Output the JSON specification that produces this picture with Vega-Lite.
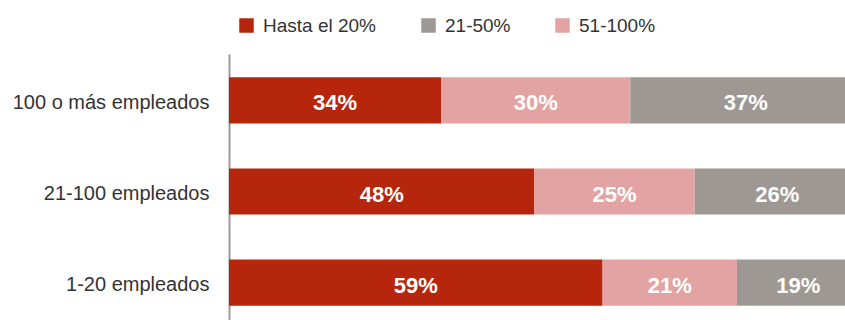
{
  "$schema": "https://vega.github.io/schema/vega-lite/v6.json",
  "width": 616,
  "height": 275,
  "autosize": {"type": "none"},
  "padding": {"left": 229, "top": 54, "right": 0, "bottom": 0},
  "background": "white",
  "config": {"view": {"stroke": null}},
  "data": {
    "values": [
      {"grupo": "100 o más empleados", "rango": "Hasta el 20%", "orden": 1, "valor": 0.336},
      {"grupo": "100 o más empleados", "rango": "51-100%", "orden": 2, "valor": 0.300},
      {"grupo": "100 o más empleados", "rango": "21-50%", "orden": 3, "valor": 0.366},
      {"grupo": "21-100 empleados", "rango": "Hasta el 20%", "orden": 1, "valor": 0.484},
      {"grupo": "21-100 empleados", "rango": "51-100%", "orden": 2, "valor": 0.254},
      {"grupo": "21-100 empleados", "rango": "21-50%", "orden": 3, "valor": 0.262},
      {"grupo": "1-20 empleados", "rango": "Hasta el 20%", "orden": 1, "valor": 0.592},
      {"grupo": "1-20 empleados", "rango": "51-100%", "orden": 2, "valor": 0.213},
      {"grupo": "1-20 empleados", "rango": "21-50%", "orden": 3, "valor": 0.194}
    ]
  },
  "encoding": {
    "y": {
      "field": "grupo",
      "type": "nominal",
      "sort": ["100 o más empleados", "21-100 empleados", "1-20 empleados"],
      "scale": {"paddingInner": 0.4945, "paddingOuter": 0.256},
      "axis": {
        "title": null,
        "ticks": false,
        "domainColor": "#9a9a9a",
        "domainWidth": 2,
        "labelFont": "Liberation Sans",
        "labelFontSize": 20,
        "labelColor": "#333333",
        "labelPadding": 20,
        "labelOffset": 2.5,
        "labelLimit": 300
      }
    },
    "x": {
      "field": "valor",
      "type": "quantitative",
      "stack": "zero",
      "scale": {"domain": [0, 0.9762], "nice": false, "zero": true},
      "axis": null
    },
    "order": {"field": "orden", "type": "quantitative"}
  },
  "layer": [
    {
      "mark": {"type": "bar", "clip": true},
      "encoding": {
        "color": {
          "field": "rango",
          "type": "nominal",
          "scale": {
            "domain": ["Hasta el 20%", "21-50%", "51-100%"],
            "range": ["#B5260C", "#9E9894", "#E3A3A3"]
          },
          "legend": {
            "title": null,
            "orient": "none",
            "direction": "horizontal",
            "columns": 3,
            "legendX": 8,
            "legendY": -38,
            "symbolType": "square",
            "symbolSize": 210,
            "symbolStrokeWidth": 0,
            "symbolOpacity": 1,
            "labelFont": "Liberation Sans",
            "labelFontSize": 19,
            "labelColor": "#333333",
            "labelOffset": 7,
            "columnPadding": 42,
            "gridAlign": "none",
            "labelLimit": 300
          }
        }
      }
    },
    {
      "mark": {
        "type": "text",
        "font": "Liberation Sans",
        "fontSize": 22,
        "fontWeight": "bold",
        "color": "white",
        "baseline": "middle",
        "dy": 3
      },
      "encoding": {
        "x": {
          "field": "valor",
          "type": "quantitative",
          "stack": "zero",
          "bandPosition": 0.5
        },
        "text": {"field": "valor", "type": "quantitative", "format": ".0%"}
      }
    }
  ]
}
